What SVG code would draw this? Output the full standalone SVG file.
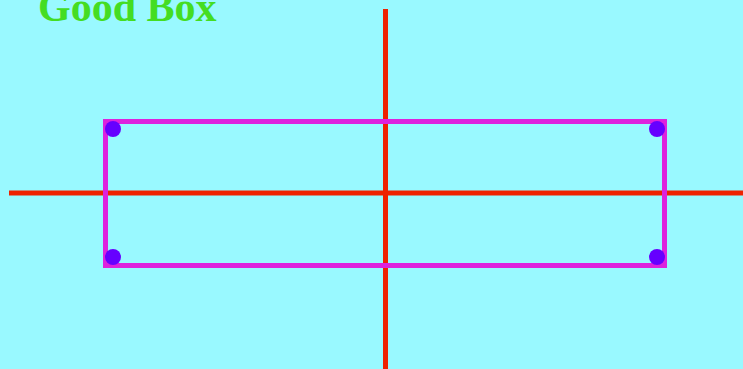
<svg xmlns="http://www.w3.org/2000/svg" width="743" height="369" viewBox="0 0 743 369">
<style>
.axis{stroke:#ee2200;stroke-width:5;fill:none}
.box{stroke:#dd22dd;stroke-width:5;fill:none}
.dot{fill:#6600ff}
.title{font-family:"Liberation Serif",serif;font-weight:bold;font-size:42px;fill:#44dd22}
</style>
<rect x="0" y="0" width="743" height="369" fill="#99f9ff"/>
<text class="title" x="38" y="21">Good Box</text>
<g id="axes">
<line class="axis" x1="385.5" y1="9" x2="385.5" y2="369"/>
<line class="axis" x1="9" y1="193" x2="743" y2="193"/>
</g>
<g id="box">
<rect class="box" x="105.5" y="121.5" width="559" height="144"/>
</g>
<g id="dots">
<circle class="dot" cx="113" cy="129" r="8"/>
<circle class="dot" cx="657" cy="129" r="8"/>
<circle class="dot" cx="113" cy="257" r="8"/>
<circle class="dot" cx="657" cy="257" r="8"/>
</g>
</svg>
